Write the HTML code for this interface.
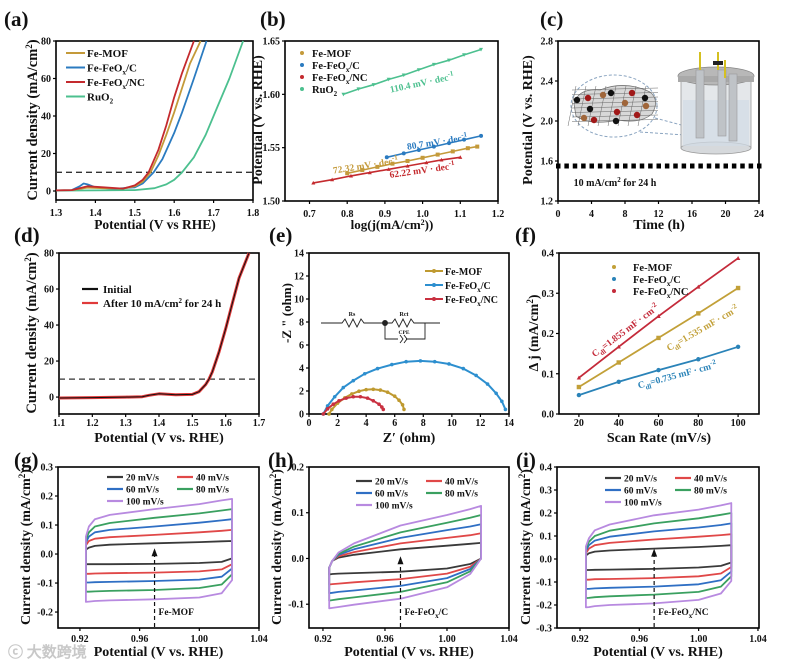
<!DOCTYPE html>
<html><head><meta charset="utf-8"><style>
html,body{margin:0;padding:0;background:#fff;}
svg{display:block;font-family:"Liberation Serif",serif;font-weight:bold;}
</style></head><body>
<svg id="fig" width="800" height="665" viewBox="0 0 800 665" xmlns="http://www.w3.org/2000/svg"></svg>
<script>
// ---------- DATA ----------
// (a) LSV
const aMofX=[1.3,1.34,1.36,1.38,1.42,1.47,1.5,1.52,1.54,1.56,1.58,1.6,1.62,1.64,1.667];
const aMofY=[0.3,0.5,1.2,1.8,1.5,1.3,2.5,5,10,19,30,42,55,68,80];
const aCX=[1.3,1.34,1.36,1.37,1.38,1.4,1.45,1.5,1.52,1.548,1.57,1.6,1.62,1.65,1.682];
const aCY=[0.3,0.5,2.5,4,3.5,2,1.2,2,4,10,17,31,42,60,80];
const aNCX=[1.3,1.34,1.36,1.38,1.42,1.47,1.5,1.52,1.535,1.56,1.58,1.6,1.62,1.65];
const aNCY=[0.3,0.5,1.5,2.5,2,1.3,3,6,10,22,35,50,63,80];
const aRuX=[1.3,1.4,1.5,1.55,1.58,1.6,1.62,1.65,1.68,1.71,1.74,1.775];
const aRuY=[0.2,0.3,0.5,1.5,3.5,6,10,18,30,45,60,80];
// (b) Tafel
const bRuX=[0.79,0.83,0.87,0.91,0.95,0.99,1.03,1.07,1.11,1.155];
const bRuY=[1.600,1.605,1.609,1.614,1.618,1.623,1.628,1.632,1.637,1.642];
const bCX=[0.905,0.95,0.99,1.03,1.07,1.11,1.155];
const bCY=[1.541,1.5446,1.5478,1.551,1.5543,1.5575,1.561];
const bMofX=[0.8,0.84,0.88,0.92,0.96,1.0,1.04,1.08,1.12,1.145];
const bMofY=[1.526,1.529,1.532,1.535,1.5375,1.5405,1.5435,1.5465,1.5495,1.551];
const bNCX=[0.71,0.76,0.81,0.86,0.91,0.96,1.01,1.05,1.1];
const bNCY=[1.517,1.520,1.5235,1.5266,1.5297,1.5328,1.536,1.5385,1.541];
// (c) stability
const cTime=[0,1,2,3,4,5,6,7,8,9,10,11,12,13,14,15,16,17,18,19,20,21,22,23,24];
const cPot=[1.55,1.55,1.55,1.55,1.55,1.55,1.55,1.55,1.55,1.55,1.55,1.55,1.55,1.55,1.55,1.55,1.55,1.55,1.55,1.55,1.55,1.55,1.55,1.55,1.55];
// (d) LSV before/after
const dX=[1.1,1.2,1.3,1.35,1.37,1.4,1.45,1.5,1.52,1.54,1.55,1.56,1.58,1.6,1.62,1.64,1.67];
const dInit=[-0.5,-0.3,0,0.2,1,1.8,1.3,1.5,3,7,10,14,25,38,52,66,80];
const dAfter=[-0.5,-0.3,0,0.2,1,1.8,1.3,1.5,3,7,10,14,25,38,52,66,80];
// (e) Nyquist
const eCRe=[1.0,1.3,1.8,2.4,3.1,3.9,4.8,5.8,6.8,7.8,8.8,9.8,10.8,11.7,12.5,13.1,13.5,13.75];
const eCIm=[0,0.7,1.5,2.3,2.9,3.5,3.95,4.3,4.55,4.62,4.55,4.35,3.95,3.35,2.6,1.8,1.1,0.4];
const eMofRe=[1.4,1.6,2.0,2.5,3.0,3.5,4.0,4.5,5.0,5.5,6.0,6.3,6.55,6.65];
const eMofIm=[0,0.4,0.95,1.4,1.75,1.98,2.12,2.15,2.08,1.9,1.55,1.2,0.8,0.4];
const eNCRe=[1.0,1.3,1.7,2.1,2.6,3.1,3.6,4.1,4.5,4.9,5.1,5.2];
const eNCIm=[0,0.45,0.85,1.15,1.38,1.5,1.5,1.38,1.15,0.85,0.6,0.4];
// (f) Cdl
const fRates=[20,40,60,80,100];
const fNC=[0.09,0.167,0.243,0.316,0.387];
const fMof=[0.067,0.128,0.189,0.25,0.313];
const fC=[0.047,0.08,0.109,0.136,0.167];
// (g,h,i) CV
const cvX=[0.924,0.926,0.93,0.94,0.97,1.0,1.015,1.022];
const cvRates=["20 mV/s","40 mV/s","60 mV/s","80 mV/s","100 mV/s"];
const gUp=[[0.015,0.022,0.028,0.032,0.037,0.041,0.044,0.045],[0.03,0.045,0.053,0.058,0.066,0.075,0.08,0.083],[0.04,0.06,0.075,0.083,0.095,0.108,0.116,0.12],[0.05,0.075,0.095,0.107,0.125,0.14,0.15,0.155],[0.06,0.095,0.12,0.135,0.155,0.172,0.185,0.19]];
const gLo=[[-0.035,-0.035,-0.035,-0.035,-0.034,-0.031,-0.027,-0.015],[-0.068,-0.068,-0.067,-0.066,-0.064,-0.06,-0.053,-0.035],[-0.098,-0.098,-0.097,-0.096,-0.093,-0.088,-0.078,-0.05],[-0.13,-0.13,-0.129,-0.127,-0.124,-0.117,-0.105,-0.07],[-0.165,-0.164,-0.162,-0.16,-0.156,-0.15,-0.135,-0.09]];
const hUp=[[-0.02,-0.005,0.002,0.008,0.02,0.028,0.032,0.034],[-0.02,-0.005,0.005,0.014,0.033,0.045,0.051,0.055],[-0.02,-0.005,0.008,0.02,0.045,0.062,0.07,0.075],[-0.02,-0.005,0.01,0.026,0.057,0.078,0.089,0.095],[-0.02,-0.005,0.013,0.033,0.072,0.095,0.108,0.115]];
const hLo=[[-0.035,-0.034,-0.033,-0.032,-0.029,-0.022,-0.012,0.0],[-0.057,-0.056,-0.055,-0.052,-0.045,-0.033,-0.018,0.0],[-0.076,-0.075,-0.073,-0.07,-0.06,-0.043,-0.023,0.0],[-0.092,-0.091,-0.089,-0.085,-0.073,-0.052,-0.028,0.0],[-0.109,-0.108,-0.106,-0.101,-0.088,-0.063,-0.034,0.0]];
const iUp=[[0.015,0.025,0.032,0.037,0.045,0.052,0.057,0.06],[0.025,0.045,0.06,0.07,0.085,0.097,0.104,0.108],[0.035,0.06,0.08,0.097,0.12,0.137,0.148,0.155],[0.045,0.075,0.1,0.123,0.155,0.177,0.192,0.2],[0.055,0.09,0.125,0.15,0.19,0.215,0.233,0.243]];
const iLo=[[-0.048,-0.048,-0.047,-0.046,-0.043,-0.037,-0.03,-0.015],[-0.09,-0.09,-0.088,-0.087,-0.083,-0.075,-0.063,-0.035],[-0.13,-0.13,-0.128,-0.125,-0.12,-0.11,-0.092,-0.055],[-0.17,-0.169,-0.166,-0.162,-0.155,-0.143,-0.12,-0.075],[-0.21,-0.209,-0.205,-0.2,-0.193,-0.178,-0.15,-0.095]];
// tick labels
const aXT=["1.3","1.4","1.5","1.6","1.7","1.8"], aYT=["0","20","40","60","80"];
const bXT=["0.7","0.8","0.9","1.0","1.1","1.2"], bYT=["1.50","1.55","1.60","1.65"];
const cXT=["0","4","8","12","16","20","24"], cYT=["1.2","1.6","2.0","2.4","2.8"];
const dXT=["1.1","1.2","1.3","1.4","1.5","1.6","1.7"], dYT=["0","20","40","60","80"];
const eXT=["0","2","4","6","8","10","12","14"], eYT=["0","2","4","6","8","10","12","14"];
const fXT=["20","40","60","80","100"], fYT=["0.0","0.1","0.2","0.3","0.4"];
const cvXT=["0.92","0.96","1.00","1.04"];
const gYT=["-0.2","-0.1","0.0","0.1","0.2","0.3"];
const hYT=["-0.1","0.0","0.1","0.2"];
const iYT=["-0.3","-0.2","-0.1","0.0","0.1","0.2","0.3","0.4"];

// ---------- HELPERS ----------
const NS="http://www.w3.org/2000/svg";
const svg=document.getElementById('fig');
function mk(tag,attrs,parent){const e=document.createElementNS(NS,tag);for(const k in attrs)e.setAttribute(k,attrs[k]);(parent||svg).appendChild(e);return e;}
function lin(d0,d1,p0,p1){return v=>p0+(v-d0)/(d1-d0)*(p1-p0);}
function txt(x,y,s,size,opts){opts=opts||{};const t=mk('text',{x:x,y:y,'font-size':size,'text-anchor':opts.anchor||'middle',fill:opts.fill||'#111'});if(opts.rot!==undefined)t.setAttribute('transform','rotate('+opts.rot+' '+x+' '+y+')');t.innerHTML=s;return t;}
function axes(name,L,R,T,B,xd,yd,xt,yt,xoff){
  xoff=xoff||13;
  const g=mk('g',{});
  
  
  const X=lin(xd[0],xd[1],L,R),Y=lin(yd[0],yd[1],B,T);
  xt.forEach(s=>{const v=parseFloat(s),px=X(v);mk('line',{x1:px,y1:B,x2:px,y2:B+3,stroke:'#000','stroke-width':1.2},g);const t=mk('text',{x:px,y:B+xoff,'font-size':10,'text-anchor':'middle',fill:'#111'},g);t.textContent=s;});
  yt.forEach(s=>{const v=parseFloat(s),py=Y(v);mk('line',{x1:L-3,y1:py,x2:L,y2:py,stroke:'#000','stroke-width':1.2},g);const t=mk('text',{x:L-5,y:py+3.5,'font-size':10,'text-anchor':'end',fill:'#111'},g);t.textContent=s;});
  const r=mk('rect',{x:L,y:T,width:R-L,height:B-T,fill:'none',stroke:'#000','stroke-width':1.6},g);
  
  
  return {X,Y};
}
function poly(xs,ys,ax,color,w,dash){const p=xs.map((x,i)=>ax.X(x).toFixed(1)+','+ax.Y(ys[i]).toFixed(1)).join(' ');const e=mk('polyline',{points:p,fill:'none',stroke:color,'stroke-width':w||1.8,'stroke-linejoin':'round'});if(dash)e.setAttribute('stroke-dasharray',dash);return e;}
function markers(xs,ys,ax,color,shape,r){xs.forEach((x,i)=>{const cx=ax.X(x),cy=ax.Y(ys[i]);let m;if(shape==='tri')m=mk('polygon',{points:cx+','+(cy-r)+' '+(cx-r)+','+(cy+r*0.8)+' '+(cx+r)+','+(cy+r*0.8),fill:color});else if(shape==='dtri')m=mk('polygon',{points:cx+','+(cy+r)+' '+(cx-r)+','+(cy-r*0.8)+' '+(cx+r)+','+(cy-r*0.8),fill:color});else if(shape==='sq')m=mk('rect',{x:cx-r,y:cy-r,width:2*r,height:2*r,fill:color});else m=mk('circle',{cx:cx,cy:cy,r:r,fill:color});});}
function plabel(x,y,s){const t=txt(x,y,s,21,{anchor:'start'});}
const GOLD='#c49a3a',BLUE='#2b7bc0',RED='#c42a2e',GREEN='#4cc08f';

// ---------- (a) ----------
plabel(4,26,'(a)');
const A=axes('panel-a',56,253,41,200,[1.3,1.8],[-4.8,80],aXT,aYT,16);
let e=poly([1.3,1.8],[10,10],A,'#333',1.3,'6,4');
e=poly(aRuX,aRuY,A,GREEN,1.8);
e=poly(aCX,aCY,A,BLUE,1.8);
e=poly(aMofX,aMofY,A,GOLD,1.8);
e=poly(aNCX,aNCY,A,RED,1.8);
[['Fe-MOF',GOLD],['Fe-FeO<tspan font-size="7" dy="3">x</tspan><tspan dy="-3">/C</tspan>',BLUE],['Fe-FeO<tspan font-size="7" dy="3">x</tspan><tspan dy="-3">/NC</tspan>',RED],['RuO<tspan font-size="7" dy="3">2</tspan>',GREEN]].forEach((l,i)=>{const y=53+i*14.5;const ln=mk('line',{x1:66,y1:y,x2:85,y2:y,stroke:l[1],'stroke-width':2});const t=txt(87,y+4,l[0],11,{anchor:'start'});});
e=txt(37,120,'Current density (mA/cm<tspan font-size="9" dy="-5">2</tspan><tspan dy="5">)</tspan>',14.5,{rot:-90});
e=txt(155,229,'Potential (V vs RHE)',13.5);

// ---------- (b) ----------
plabel(260,26,'(b)');
const Bx=axes('panel-b',285,498,41,201,[0.635,1.2],[1.5,1.65],bXT,bYT,16);
[[bRuX,bRuY,GREEN,'dtri','ruo2'],[bCX,bCY,BLUE,'circ','fefeox-c'],[bMofX,bMofY,GOLD,'sq','femof'],[bNCX,bNCY,RED,'tri','fefeox-nc']].forEach(s=>{const p=poly(s[0],s[1],Bx,s[2],1.6);markers(s[0],s[1],Bx,s[2],s[3],2);});
[['Fe-MOF',GOLD,'sq'],['Fe-FeO<tspan font-size="7" dy="3">x</tspan><tspan dy="-3">/C</tspan>',BLUE,'circ'],['Fe-FeO<tspan font-size="7" dy="3">x</tspan><tspan dy="-3">/NC</tspan>',RED,'tri'],['RuO<tspan font-size="7" dy="3">2</tspan>',GREEN,'dtri']].forEach((l,i)=>{const y=53+i*12;const m=mk('circle',{cx:302,cy:y,r:2,fill:l[1]});const t=txt(312,y+4,l[0],10.5,{anchor:'start'});});
e=txt(Bx.X(1.0),Bx.Y(1.608),'110.4 mV · dec<tspan font-size="7" dy="-4">-1</tspan>',9.5,{fill:GREEN,rot:-12});
e=txt(Bx.X(1.04),Bx.Y(1.5525),'80.7 mV · dec<tspan font-size="7" dy="-4">-1</tspan>',9.5,{fill:BLUE,rot:-9});
e=txt(Bx.X(0.85),Bx.Y(1.5305),'72.32 mV · dec<tspan font-size="7" dy="-4">-1</tspan>',9.5,{fill:GOLD,rot:-9});
e=txt(Bx.X(1.0),Bx.Y(1.526),'62.22 mV · dec<tspan font-size="7" dy="-4">-1</tspan>',9.5,{fill:RED,rot:-8});
e=txt(262,120,'Potential (V vs. RHE)',14,{rot:-90});
e=txt(392,229,'log(j(mA/cm<tspan font-size="8" dy="-4">2</tspan><tspan dy="4">))</tspan>',13);

// ---------- (c) ----------
plabel(540,26,'(c)');
const C=axes('panel-c',558,759,41,201,[0,24],[1.2,2.8],cXT,cYT,16);
cTime.forEach((t,i)=>{const r=mk('rect',{x:C.X(t)-2,y:C.Y(cPot[i])-2.5,width:4.5,height:5,fill:'#000'});});
e=txt(615,186,'10 mA/cm<tspan font-size="7" dy="-4">2</tspan><tspan dy="4"> for 24 h</tspan>',10);
e=txt(532,120,'Potential (V vs. RHE)',14,{rot:-90});
e=txt(659,229,'Time (h)',14);
// illustration
const ill=mk('g',{});


mk('ellipse',{cx:614,cy:106,rx:43,ry:31,fill:'none',stroke:'#8aa4c0','stroke-width':1,'stroke-dasharray':'3,2'},ill);
mk('path',{d:'M574 104 Q578 88 600 90 Q625 80 650 92 Q660 100 652 114 Q640 124 618 120 Q590 126 576 116 Z',fill:'#d8d8d8',stroke:'#777','stroke-width':0.8},ill);
for(let k=0;k<8;k++){mk('line',{x1:576+k*10,y1:86,x2:568+k*10,y2:126,stroke:'#666','stroke-width':0.5},ill);mk('line',{x1:572,y1:90+k*4.5,x2:658,y2:88+k*4.5,stroke:'#666','stroke-width':0.5},ill);}
[[588,98,'#a01818'],[632,93,'#a01818'],[617,112,'#a01818'],[594,120,'#a01818'],[637,115,'#a01818'],[603,95,'#a0663a'],[625,103,'#a0663a'],[584,118,'#a0663a'],[646,106,'#a0663a'],[577,100,'#111'],[611,93,'#111'],[590,109,'#111'],[616,121,'#111'],[645,98,'#111']].forEach(d=>mk('circle',{cx:d[0],cy:d[1],r:3.2,fill:d[2]},ill));
mk('line',{x1:655,y1:118,x2:700,y2:130,stroke:'#8aa4c0','stroke-width':1,'stroke-dasharray':'3,2'},ill);
mk('line',{x1:640,y1:132,x2:700,y2:136,stroke:'#8aa4c0','stroke-width':1,'stroke-dasharray':'3,2'},ill);
mk('rect',{x:681,y:78,width:70,height:70,fill:'#e4e7ea',stroke:'#999','stroke-width':0.8},ill);
mk('ellipse',{cx:716,cy:148,rx:35,ry:6,fill:'#d6d9dc',stroke:'#999','stroke-width':0.8},ill);
mk('rect',{x:683,y:100,width:66,height:46,fill:'#d2dbe6',opacity:0.7},ill);
mk('ellipse',{cx:716,cy:76,rx:38,ry:9,fill:'#b8b8b8',stroke:'#888','stroke-width':0.8},ill);
mk('rect',{x:678,y:76,width:76,height:6,fill:'#a9a9a9'},ill);
[[700,64,132],[722,64,130],[733,68,135]].forEach(p=>{mk('rect',{x:p[0]-4,y:p[1]+6,width:8,height:p[2]-p[1],fill:'#bfc3c7',stroke:'#999','stroke-width':0.6},ill);});
[[700,52],[718,52],[725,60]].forEach(p=>mk('line',{x1:p[0],y1:p[1],x2:p[0],y2:p[1]+18,stroke:'#d4c020','stroke-width':2},ill));
mk('rect',{x:713,y:61,width:10,height:4,fill:'#222'},ill);

// ---------- (d) ----------
plabel(14,242,'(d)');
const D=axes('panel-d',59,259,253,414,[1.1,1.7],[-9.4,80],dXT,dYT,12);
e=poly([1.1,1.7],[10,10],D,'#333',1.3,'6,4');
e=poly(dX,dAfter,D,'#e03a3a',3);
e=poly(dX,dInit,D,'#111',1);
e=mk('line',{x1:82,y1:289,x2:98,y2:289,stroke:'#111','stroke-width':2.2});
e=txt(103,293,'Initial',11,{anchor:'start'});
e=mk('line',{x1:82,y1:303,x2:98,y2:303,stroke:'#e03a3a','stroke-width':2.2});
e=txt(103,307,'After 10 mA/cm<tspan font-size="7" dy="-4">2</tspan><tspan dy="4"> for 24 h</tspan>',11,{anchor:'start'});
e=txt(36,333,'Current density (mA/cm<tspan font-size="9" dy="-5">2</tspan><tspan dy="5">)</tspan>',14.5,{rot:-90});
e=txt(159,442,'Potential (V vs. RHE)',14);

// ---------- (e) ----------
plabel(269,242,'(e)');
const E=axes('panel-e',309,509,253,414,[0,14],[0,14],eXT,eYT,12);
[[eCRe,eCIm,'#2d8fcf','fefeox-c'],[eMofRe,eMofIm,'#bf9a30','femof'],[eNCRe,eNCIm,'#c93040','fefeox-nc']].forEach(s=>{const p=poly(s[0],s[1],E,s[2],2);markers(s[0],s[1],E,s[2],'circ',1.8);});
[['Fe-MOF','#bf9a30'],['Fe-FeO<tspan font-size="7" dy="3">x</tspan><tspan dy="-3">/C</tspan>','#2d8fcf'],['Fe-FeO<tspan font-size="7" dy="3">x</tspan><tspan dy="-3">/NC</tspan>','#c93040']].forEach((l,i)=>{const y=271+i*14;const ln=mk('line',{x1:425,y1:y,x2:443,y2:y,stroke:l[1],'stroke-width':2});mk('circle',{cx:434,cy:y,r:2,fill:l[1]});const t=txt(445,y+4,l[0],10,{anchor:'start'});});
const circ=mk('g',{fill:'none',stroke:'#222','stroke-width':0.9});


mk('polyline',{points:'321,323 342,323 345,319 349,327 353,319 357,327 361,319 364,323 385,323 392,323 395,319 399,327 403,319 407,327 411,319 414,323 440,323'},circ);
mk('polyline',{points:'385,323 385,339 398,339'},circ);
mk('polyline',{points:'406,339 425,339 425,323'},circ);
mk('polyline',{points:'400,335 403,339 400,343'},circ);mk('polyline',{points:'404,335 407,339 404,343'},circ);
mk('circle',{cx:385,cy:323,r:2.5,fill:'#222'},circ);
e=txt(352,316,'Rs',6);
e=txt(404,316,'Rct',6);
e=txt(404,334,'CPE',5.5);
e=txt(291,313,'-Z &quot;  (ohm)',13,{rot:-90});
e=txt(409,442,'Z′   (ohm)',14);

// ---------- (f) ----------
plabel(515,242,'(f)');
const F=axes('panel-f',559,759,253,414,[10,110.5],[0,0.4],fXT,fYT,12);
[[fNC,'#c42a3a','tri','fefeox-nc'],[fMof,'#c2a038','sq','femof'],[fC,'#2a83b8','circ','fefeox-c']].forEach(s=>{const p=poly(fRates,s[0],F,s[1],1.8);markers(fRates,s[0],F,s[1],s[2],2.2);});
[['Fe-MOF','#c2a038'],['Fe-FeO<tspan font-size="7" dy="3">x</tspan><tspan dy="-3">/C</tspan>','#2a83b8'],['Fe-FeO<tspan font-size="7" dy="3">x</tspan><tspan dy="-3">/NC</tspan>','#c42a3a']].forEach((l,i)=>{const y=267+i*12;const m=mk('circle',{cx:614,cy:y,r:2,fill:l[1]});const t=txt(633,y+4,l[0],10.5,{anchor:'start'});});
e=txt(627,333,'C<tspan font-size="7" dy="3">dl</tspan><tspan dy="-3">=1.855 mF · cm</tspan><tspan font-size="7" dy="-4">-2</tspan>',9.5,{fill:'#c42a3a',rot:-37});
e=txt(704,331,'C<tspan font-size="7" dy="3">dl</tspan><tspan dy="-3">=1.535 mF · cm</tspan><tspan font-size="7" dy="-4">-2</tspan>',9.5,{fill:'#c2a038',rot:-30});
e=txt(678,378,'C<tspan font-size="7" dy="3">dl</tspan><tspan dy="-3">=0.735 mF · cm</tspan><tspan font-size="7" dy="-4">-2</tspan>',9.5,{fill:'#2a83b8',rot:-15});
e=txt(538,333,'Δ j (mA/cm<tspan font-size="9" dy="-5">2</tspan><tspan dy="5">)</tspan>',14,{rot:-90});
e=txt(659,442,'Scan Rate (mV/s)',14);

// ---------- CV panels ----------
const CVCOL=['#3a3a3a','#e04848','#2f6fc4','#3aa060','#b88ae0'];
function cvPanel(id,L,R,xd,yd,yt,up,lo,label,lx,ly,arrowTop,ytitleX){
  const ax=axes('panel-'+id,L,R,467,628,xd,yd,cvXT,yt,14);
  up.forEach((u,k)=>{
    const pts=[];pts.push([cvX[0],lo[k][0]]);cvX.forEach((x,i)=>pts.push([x,u[i]]));
    for(let i=cvX.length-1;i>=0;i--)pts.push([cvX[i],lo[k][i]]);
    const p=mk('polygon',{points:pts.map(q=>ax.X(q[0]).toFixed(1)+','+ax.Y(q[1]).toFixed(1)).join(' '),fill:'none',stroke:CVCOL[k],'stroke-width':1.8,'stroke-linejoin':'round'});
    
    
  });
  const ax0=ax.X(0.97);
  const ar=mk('line',{x1:ax0,y1:627,x2:ax0,y2:ax.Y(arrowTop)+6,stroke:'#111','stroke-width':1.2,'stroke-dasharray':'4,3'});
  
  
  const ah=mk('polygon',{points:ax0+','+ax.Y(arrowTop)+' '+(ax0-3)+','+(ax.Y(arrowTop)+8)+' '+(ax0+3)+','+(ax.Y(arrowTop)+8),fill:'#111'});
  
  
  const lb=txt(ax0+4,615,label,9.5,{anchor:'start'});
  
  
  cvRates.forEach((r,k)=>{const col=k%2,row=Math.floor(k/2);const x=lx+col*70,y=ly+row*12;
    const s=mk('line',{x1:x,y1:y,x2:x+16,y2:y,stroke:CVCOL[k],'stroke-width':2.2});
    
    
    const t=txt(x+19,y+3.5,r,9.5,{anchor:'start'});
    
    });
  const yt2=txt(ytitleX,547,'Current density (mA/cm<tspan font-size="9" dy="-5">2</tspan><tspan dy="5">)</tspan>',14,{rot:-90});
  
  
  const xt2=txt((L+R)/2,656,'Potential (V vs. RHE)',14);
  
  
}
plabel(14,467,'(g)');plabel(268,467,'(h)');plabel(516,467,'(i)');
cvPanel('g',58,259,[0.9053,1.04],[-0.255,0.3],gYT,gUp,gLo,'Fe-MOF',107,477,0.02,30);
cvPanel('h',309,509,[0.911,1.04],[-0.152,0.2],hYT,hUp,hLo,'Fe-FeO<tspan font-size="7" dy="3">x</tspan><tspan dy="-3">/C</tspan>',356,481,0.005,281);
cvPanel('i',557,759,[0.9045,1.0407],[-0.3,0.4],iYT,iUp,iLo,'Fe-FeO<tspan font-size="7" dy="3">x</tspan><tspan dy="-3">/NC</tspan>',605,478,0.045,530);
e=txt(8,657,'ⓒ 大数跨境',15,{anchor:'start',fill:'#c8c8c8'});


</script>
</body></html>
